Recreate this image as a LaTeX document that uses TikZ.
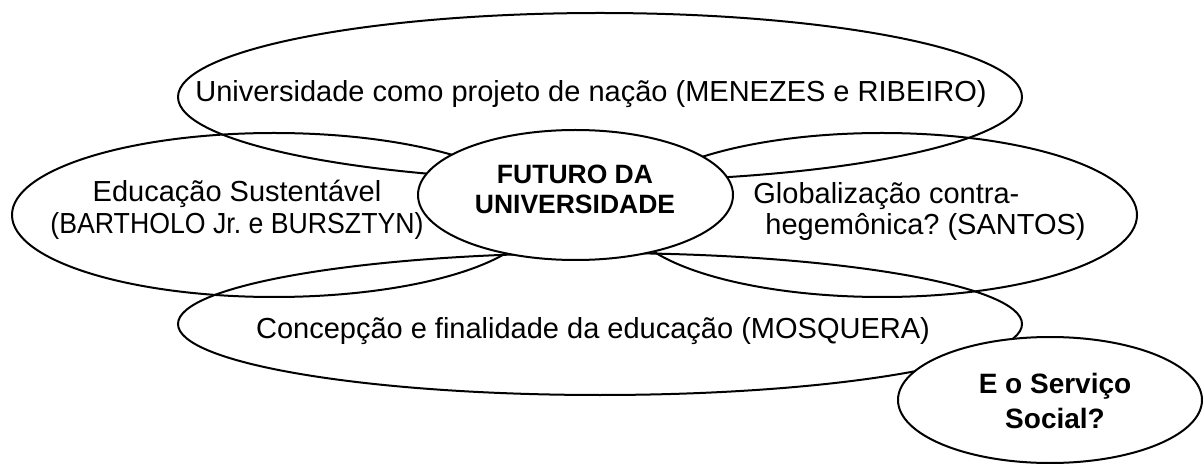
\documentclass[tikz,border=0pt]{standalone}
\usepackage{fontspec}
\setmainfont{Liberation Sans}
\usepackage{graphicx}
\usetikzlibrary{shapes.geometric}
\frenchspacing

\begin{document}
\begin{tikzpicture}[
        x=0.5pt, y=-0.5pt,
        oval/.style={draw, ellipse, line width=1pt, inner sep=0pt},
        hub/.style={oval, fill=white},
        theme/.style={font=\fontsize{14.5}{15.75}\selectfont, inner sep=0pt},
        hubtext/.style={font=\fontsize{13.25}{15}\selectfont\bfseries, align=center, inner sep=0pt}
        ]
        \useasboundingbox (0,0) rectangle (1203,464);

        % Ellipses
        \node[oval, minimum width=422pt, minimum height=84pt] (nacao) at (600,97) {};
        \node[oval, minimum width=262pt, minimum height=82pt] (sustent) at (274,215) {};
        \node[oval, minimum width=255pt, minimum height=82pt] (global) at (882,215) {};
        \node[oval, minimum width=422pt, minimum height=71pt] (mosquera) at (600,324) {};
        \node[hub, minimum width=157.5pt, minimum height=65pt] (futuro) at (575.5,195) {};
        \node[hub, minimum width=152pt, minimum height=63pt] (servico) at (1050,400) {};

        % Texts
        \node[theme, anchor=base] (nacaotxt) at (591,102) {Universidade como projeto de nação (MENEZES e RIBEIRO)};
        \node[theme, align=center] (sustenttxt) at (237,210) {Educação Sustentável\\\scalebox{0.92}[1]{(BARTHOLO Jr. e BURSZTYN)}};
        \node[theme, align=left, anchor=west] (globaltxt) at (753,211.5) {Globalização contra-\\\hspace*{6pt}hegemônica? (SANTOS)};
        \node[theme, anchor=base] (mosqueratxt) at (593,338) {Concepção e finalidade da educação (MOSQUERA)};
        \node[hubtext] (futurotxt) at (575,189.5) {FUTURO DA\\UNIVERSIDADE};
        \node[hubtext, font=\fontsize{14}{17.5}\selectfont\bfseries] (servicotxt) at (1055,400.5) {E o Serviço\\Social?};
    \end{tikzpicture}
\end{document}
